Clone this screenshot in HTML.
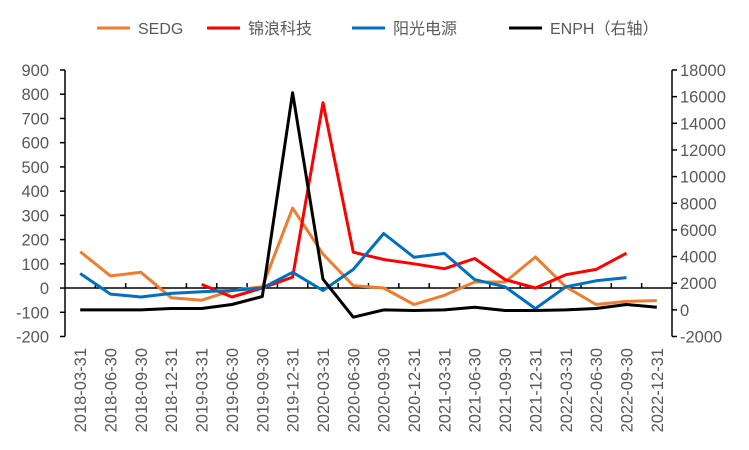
<!DOCTYPE html>
<html><head><meta charset="utf-8"><style>
body{margin:0;background:#fff;font-family:"Liberation Sans","Noto Sans CJK SC",sans-serif;}
</style></head><body>
<svg id="chart" width="749" height="450" xmlns="http://www.w3.org/2000/svg" style="display:block"></svg>
<script>
const categories=["2018-03-31","2018-06-30","2018-09-30","2018-12-31","2019-03-31","2019-06-30","2019-09-30","2019-12-31","2020-03-31","2020-06-30","2020-09-30","2020-12-31","2021-03-31","2021-06-30","2021-09-30","2021-12-31","2022-03-31","2022-06-30","2022-09-30","2022-12-31"];
const sedg=[150,50,65,-40,-50,-10,5,330,140,10,0,-68,-30,25,25,128,5,-68,-55,-52];
const jinlang=[null,null,null,null,15,-37,0,45,765,148,118,100,80,122,35,0,55,77,144,null];
const sungrow=[60,-25,-37,-22,-15,-10,0,65,-10,77,225,127,143,35,5,-85,5,30,43,null];
const enph=[0,0,0,100,100,400,1000,16300,2300,-550,0,-50,0,200,-50,-50,0,100,400,200];
const leftTicks=[900,800,700,600,500,400,300,200,100,0,-100,-200];
const rightTicks=[18000,16000,14000,12000,10000,8000,6000,4000,2000,0,-2000];
const svg=document.getElementById('chart');
const NS='http://www.w3.org/2000/svg';
const X0=65,X1=672,YT=70,YB=336.5;
const step=(X1-X0)/categories.length;
const xc=i=>X0+step*(i+0.5);
const yl=v=>YB-(v+200)/1100*(YB-YT);
const yr=v=>YB-(v+2000)/20000*(YB-YT);
function mk(tag,attrs,txt){const e=document.createElementNS(NS,tag);for(const k in attrs)e.setAttribute(k,attrs[k]);if(txt!=null)e.textContent=txt;svg.appendChild(e);return e;}
let e=mk('line',{x1:X0,x2:X0,y1:YT,y2:YB,stroke:'#000','stroke-width':1.5});

e=mk('line',{x1:X1,x2:X1,y1:YT,y2:YB,stroke:'#000','stroke-width':1.5});

leftTicks.forEach(t=>{const y=yl(t);
 mk('line',{x1:X0-5,x2:X0,y1:y,y2:y,stroke:'#000','stroke-width':1.5});
 const tx=mk('text',{x:49,y:y+6,'text-anchor':'end','font-size':16.5,fill:'#595959'},t);
 });
rightTicks.forEach(t=>{const y=yr(t);
 mk('line',{x1:X1,x2:X1+5,y1:y,y2:y,stroke:'#000','stroke-width':1.5});
 const tx=mk('text',{x:680,y:y+6,'text-anchor':'start','font-size':16.5,fill:'#595959'},t);
 });
const y0=yl(0);
e=mk('line',{x1:X0,x2:X1,y1:y0,y2:y0,stroke:'#000','stroke-width':1.5});

for(let i=1;i<categories.length;i++){const x=X0+step*i;mk('line',{x1:x,x2:x,y1:y0-5,y2:y0,stroke:'#000','stroke-width':1.5});}
categories.forEach((c,i)=>{const x=xc(i)+6;
 const tx=mk('text',{x:x,y:348,'text-anchor':'end','font-size':16.5,fill:'#595959',transform:`rotate(-90 ${x} 348)`},c);
 });
function series(vals,fy,color,name){let d='',pen=false;
 vals.forEach((v,i)=>{if(v==null){pen=false;return;}d+=(pen?'L':'M')+xc(i).toFixed(1)+','+fy(v).toFixed(1);pen=true;});
 const p=mk('path',{d:d,fill:'none',stroke:color,'stroke-width':3,'stroke-linejoin':'round'});
 }
series(sedg,yl,'#ED7D31','sedg-line');
series(jinlang,yl,'#FF0000','jinlang-line');
series(sungrow,yl,'#0070C0','sungrow-line');
series(enph,yr,'#000000','enph-line');
const leg=[['SEDG','#ED7D31',97],['锦浪科技','#FF0000',207],['阳光电源','#0070C0',352],['ENPH（右轴）','#000000',509]];
leg.forEach(l=>{mk('line',{x1:l[2],x2:l[2]+33,y1:28,y2:28,stroke:l[1],'stroke-width':3});
 const tx=mk('text',{x:l[2]+41,y:34,'font-size':16,fill:'#595959'},l[0]);
 });
</script>
</body></html>
